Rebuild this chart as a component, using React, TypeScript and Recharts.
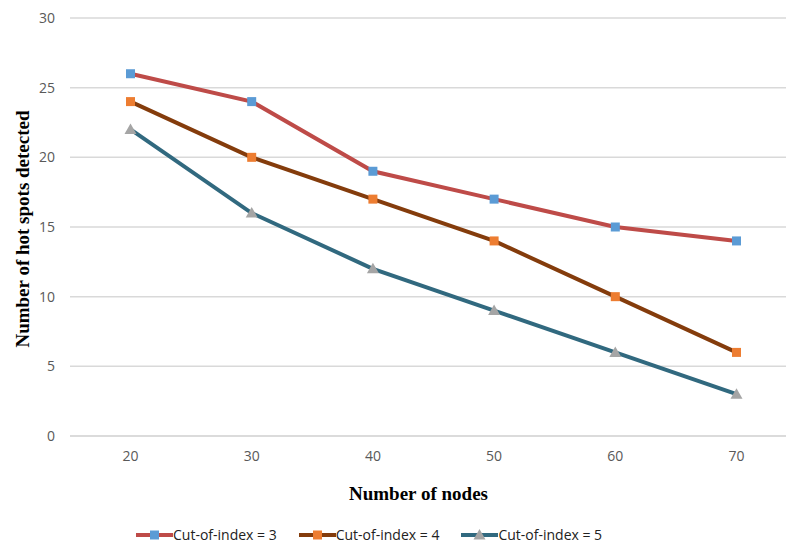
import { CartesianGrid, Label, Legend, Line, LineChart, XAxis, YAxis } from "recharts"

const nodes = [20, 30, 40, 50, 60, 70]
const cut3 = [26, 24, 19, 17, 15, 14]
const cut4 = [24, 20, 17, 14, 10, 6]
const cut5 = [22, 16, 12, 9, 6, 3]
const yTicks = [0, 5, 10, 15, 20, 25, 30]

const data = nodes.map((n, i) => ({ nodes: n, cut3: cut3[i], cut4: cut4[i], cut5: cut5[i] }))

const series = [
  { key: "cut3", name: "Cut-of-index = 3", stroke: "#be4b48", marker: "#5b9bd5", shape: "square" },
  { key: "cut4", name: "Cut-of-index = 4", stroke: "#843c0c", marker: "#ed7d31", shape: "square" },
  { key: "cut5", name: "Cut-of-index = 5", stroke: "#31697f", marker: "#a5a5a5", shape: "triangle" },
]

function Marker({ cx, cy, fill, shape }: any) {
  if (cx == null || cy == null) return null
  if (shape === "triangle") {
    return <path d={`M${cx},${cy - 6} L${cx + 6},${cy + 4.5} L${cx - 6},${cy + 4.5} Z`} fill={fill} />
  }
  return <rect x={cx - 4.5} y={cy - 4.5} width={9} height={9} fill={fill} />
}

function LegendContent() {
  return (
    <div style={{ height: 39, display: "flex", alignItems: "flex-end", paddingLeft: 136, paddingBottom: 1, boxSizing: "border-box" }}>
      {series.map((s) => (
        <div key={s.key} style={{ display: "flex", alignItems: "center", marginRight: 22 }}>
          <svg width={37} height={18}>
            <line x1={0} y1={9} x2={37} y2={9} stroke={s.stroke} strokeWidth={4} />
            <Marker cx={18.5} cy={9} fill={s.marker} shape={s.shape} />
          </svg>
          <span style={{ fontFamily: "Open Sans", fontSize: 14, color: "#222" }}>{s.name}</span>
        </div>
      ))}
    </div>
  )
}

export default function App() {
  return (
    <div style={{ position: "absolute", left: 0, top: 0, width: 786, height: 545, overflow: "hidden", background: "#fff" }}>
      <LineChart width={797} height={545} data={data} margin={{ top: 18, right: 0, left: 0, bottom: 0 }}>
        <CartesianGrid vertical={false} stroke="#d9d9d9" strokeWidth={1.5} />
        <XAxis
          dataKey="nodes"
          height={70}
          padding={{ left: 60.5, right: 60.5 }}
          stroke="#d9d9d9"
          strokeWidth={1.5}
          tickLine={false}
          tickSize={0}
          tickMargin={15}
          tick={{ fill: "#595959", fontSize: 14, fontFamily: "Open Sans" }}
        >
          <Label
            value="Number of nodes"
            position="center"
            dx={-15}
            dy={22}
            style={{ fontFamily: "Liberation Serif", fontWeight: "bold", fontSize: 19, fill: "#000" }}
          />
        </XAxis>
        <YAxis
          width={70}
          domain={[0, 30]}
          ticks={yTicks}
          axisLine={false}
          tickLine={false}
          tickSize={0}
          tickMargin={15}
          tick={{ fill: "#595959", fontSize: 14, fontFamily: "Open Sans" }}
        >
          <Label
            value="Number of hot spots detected"
            angle={-90}
            position="center"
            dx={-13}
            dy={2}
            style={{ fontFamily: "Liberation Serif", fontWeight: "bold", fontSize: 19, fill: "#000", textAnchor: "middle" }}
          />
        </YAxis>
        <Legend verticalAlign="bottom" content={<LegendContent />} wrapperStyle={{ left: 0, width: 786 }} />
        {series.map((s) => (
          <Line
            key={s.key}
            dataKey={s.key}
            name={s.name}
            stroke={s.stroke}
            strokeWidth={4}
            isAnimationActive={false}
            dot={(p: any) => <Marker key={p.index} cx={p.cx} cy={p.cy} fill={s.marker} shape={s.shape} />}
            activeDot={false}
          />
        ))}
      </LineChart>
    </div>
  )
}
